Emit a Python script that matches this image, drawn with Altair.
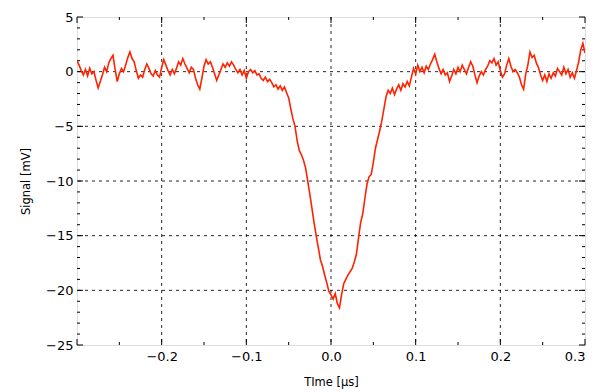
import altair as alt
import pandas as pd

# time samples in microseconds (uniform sampling grid, -0.3 .. 0.3)
t0 = -0.3
dt = 0.0025

# signal values in mV
signal = [
    1.0, 0.6, 0.1, -0.3, 0.2, -0.4, 0.3, -0.2, 0.0, -0.8,
    -1.5, -0.9, -0.3, 0.4, 0.0, 0.8, 1.2, 1.5, 0.2, -0.9,
    -0.2, 0.3, 0.0, 0.6, 1.3, 1.8, 1.2, 0.9, 0.1, -0.6,
    -0.3, -0.5, 0.2, 0.7, 0.3, -0.2, -0.4, 0.1, -0.3, -0.5,
    0.4, 1.1, 0.6, 0.1, -0.3, 0.2, -0.2, 0.3, 0.9, 0.6,
    1.2, 0.7, 0.3, -0.1, 0.4, 0.2, -0.6, -1.2, -1.6, -0.6,
    0.5, 1.1, 0.7, 0.9, 0.4, -0.2, -0.8, -0.3, 0.2, 0.7,
    0.4, 0.8, 0.5, 0.9, 0.6, 0.2, -0.1, 0.2, -0.3, 0.1,
    -0.6, 0.0, 0.2, -0.1, 0.1, -0.3, -0.2, -0.6, -0.8, -0.5,
    -0.9, -0.7, -1.0, -1.4, -1.2, -1.6, -1.3, -1.7, -1.4, -1.9,
    -2.4, -3.4, -4.3, -5.0, -6.3, -7.2, -7.6, -8.1, -8.8, -10.0,
    -11.2, -12.5, -13.8, -15.0, -16.1, -17.2, -17.8, -18.6, -19.3, -20.1,
    -20.4, -20.8, -20.3, -21.2, -21.6, -20.4, -19.4, -19.0, -18.6, -18.3,
    -18.0, -17.4, -16.7, -15.2, -13.8, -13.0, -11.6, -10.3, -9.6, -9.4,
    -8.3, -7.0, -6.2, -5.4, -4.5, -3.4, -2.3, -1.7, -2.0, -1.5,
    -2.1, -1.6, -1.2, -1.7, -1.1, -1.4, -0.9, -1.3, -0.5, 0.3,
    -0.2, 0.6, 0.0, 0.4, -0.1, 0.5, 0.2, 0.7, 1.1, 1.6,
    0.9, 0.3, -0.2, 0.2, -0.3, -0.1, -0.9, -0.4, 0.2, -0.2,
    0.4, 0.0, 0.6, 0.2, -0.2, 0.4, 0.9, 0.5, -0.3, -1.0,
    -0.4, 0.0, -0.3, 0.2, 0.5, 1.0, 0.8, 1.2, 0.6, 0.9,
    0.1, -0.5, -0.2, 0.6, 1.2, 0.5, 0.0, 0.2, -0.1, -0.5,
    -1.2, -1.6, -0.2, 0.6, 1.8, 1.3, 1.5, 0.8, 0.4, -0.3,
    -0.8, -0.3, -0.9, -0.2, -0.6, -0.1, -0.4, 0.3, 0.0, -0.3,
    0.4, -0.2, 0.2, -0.5, -0.1, -0.6, 0.1, 0.9, 2.0, 2.6,
    1.7,
]
time = [round(t0 + i * dt, 4) for i in range(len(signal))]

x_major = [-0.3, -0.2, -0.1, 0.0, 0.1, 0.2, 0.3]
x_minor = [-0.25, -0.15, -0.05, 0.05, 0.15, 0.25]
x_labels = [-0.2, -0.1, 0.0, 0.1, 0.2, 0.3]
x_grid = [-0.2, -0.1, 0.0, 0.1, 0.2]
y_major = [-25, -20, -15, -10, -5, 0, 5]
y_minor = [v for v in range(-24, 5) if v % 5 != 0]
y_grid = [-20, -15, -10, -5, 0]

W, H = 508, 328
FONT = "DejaVu Sans"

df = pd.DataFrame({"t": time, "v": signal})
xs = alt.Scale(domain=[-0.3, 0.3], nice=False, zero=False)
ys = alt.Scale(domain=[-25, 5], nice=False, zero=False)

line = alt.Chart(df).mark_line(color="#ff2200", strokeWidth=1.6, clip=True).encode(
    x=alt.X("t:Q", scale=xs, title="TIme [μs]",
            axis=alt.Axis(values=x_labels, format=".1f", grid=False, ticks=False,
                          labelFontSize=13, labelPadding=5, labelFont=FONT,
                          labelColor="#000", titleFont=FONT, titleFontSize=11.5,
                          titleFontWeight="normal", titleColor="#000", titlePadding=13,
                          domain=False)),
    y=alt.Y("v:Q", scale=ys, title="Signal [mV]",
            axis=alt.Axis(values=y_major, format="d", grid=False, ticks=False,
                          labelFontSize=13, labelPadding=4, labelFont=FONT,
                          labelColor="#000", titleFont=FONT, titleFontSize=11.5,
                          titleFontWeight="normal", titleColor="#000", titlePadding=14,
                          domain=False)),
)

gx = alt.Chart(pd.DataFrame({"t": x_grid})).mark_rule(
    color="#000", strokeWidth=1, strokeDash=[3, 4], opacity=0.85
).encode(x=alt.X("t:Q", scale=xs))
gy = alt.Chart(pd.DataFrame({"v": y_grid})).mark_rule(
    color="#000", strokeWidth=1, strokeDash=[3, 4], opacity=0.85
).encode(y=alt.Y("v:Q", scale=ys))


def xticks(vals, length):
    d = pd.DataFrame({"t": vals})
    bottom = alt.Chart(d).mark_rule(color="#000", strokeWidth=1).encode(
        x=alt.X("t:Q", scale=xs), y=alt.value(H), y2=alt.value(H - length))
    top = alt.Chart(d).mark_rule(color="#000", strokeWidth=1).encode(
        x=alt.X("t:Q", scale=xs), y=alt.value(0), y2=alt.value(length))
    return [bottom, top]


def yticks(vals, length):
    d = pd.DataFrame({"v": vals})
    left = alt.Chart(d).mark_rule(color="#000", strokeWidth=1).encode(
        y=alt.Y("v:Q", scale=ys), x=alt.value(0), x2=alt.value(length))
    right = alt.Chart(d).mark_rule(color="#000", strokeWidth=1).encode(
        y=alt.Y("v:Q", scale=ys), x=alt.value(W), x2=alt.value(W - length))
    return [left, right]


layers = [gx, gy] + xticks(x_major, 6) + xticks(x_minor, 3) + \
    yticks(y_major, 6) + yticks(y_minor, 3) + [line]

chart = alt.layer(*layers).properties(
    width=W, height=H,
    autosize=alt.AutoSizeParams(type="none"),
    padding={"left": 69, "top": 9, "right": 15, "bottom": 46},
).configure_view(stroke="#000", strokeWidth=1.2).configure(background="white")

chart.save("out.html", embed_options={"renderer": "svg", "actions": False})
